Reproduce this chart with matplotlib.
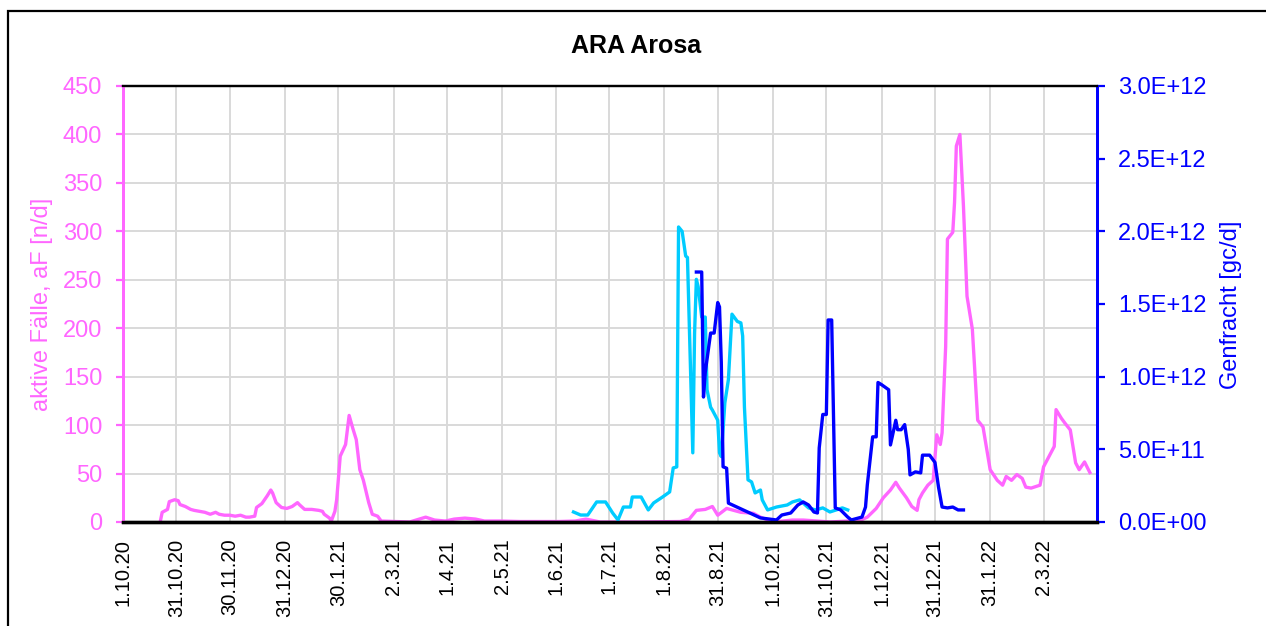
import numpy as np
import matplotlib
matplotlib.use("Agg")
import matplotlib.pyplot as plt
from matplotlib.patches import Rectangle

plt.rcParams['font.family'] = ['Liberation Sans', 'DejaVu Sans']

start = np.datetime64('2020-10-01')

# aktive Fälle (left axis), day offsets from 1.10.20
faelle_days = [21, 22, 25, 26, 29, 31, 32, 35, 38, 40, 43, 46, 49, 52, 54, 57, 60, 63, 66, 69,
               71, 74, 75, 78, 81, 83, 84, 86, 89, 92, 95, 98, 99, 102, 106, 110, 112, 113, 116, 117,
               119, 120, 122, 125, 127, 129, 131, 133, 135, 138, 140, 143, 145, 153, 161, 170, 175, 181, 186, 192,
               198, 203, 212, 223, 245, 254, 260, 268, 290, 313, 318, 322, 327, 331, 334, 339, 347, 354, 358, 365,
               376, 382, 390, 397, 407, 412, 418, 423, 427, 431, 434, 436, 440, 443, 446, 447, 449, 452, 455, 457,
               459, 460, 462, 463, 466, 467, 468, 470, 472, 474, 477, 480, 483, 487, 491, 494, 496, 499, 502, 505,
               507, 510, 515, 517, 521, 523, 524, 527, 529, 532, 535, 537, 540, 543]
faelle_vals = [1, 10, 13, 21, 23, 22, 18, 16, 13, 12, 11, 10, 8, 10, 8, 7, 7, 6, 7, 5,
               5, 6, 15, 19, 27, 33, 30, 20, 15, 14, 16, 20, 18, 13, 13, 12, 11, 8, 4, 1,
               11, 23, 68, 80, 110, 97, 85, 54, 43, 20, 8, 6, 1, 0.5, 0, 5, 2, 1, 3, 4,
               3, 1, 1, 0.5, 0.5, 1, 3, 0, 0, 0.5, 3, 12, 13, 16, 7, 14, 10, 9, 5, 0,
               2, 2, 1, 0, 1, 0, 5, 14, 25, 33, 41, 35, 25, 16, 12, 23, 30, 38, 43, 90,
               80, 92, 181, 292, 299, 330, 388, 400, 326, 233, 199, 105, 98, 54, 43, 38, 47, 43, 49, 45,
               36, 35, 38, 57, 71, 78, 116, 107, 102, 95, 61, 54, 62, 51]

# Genfracht series 1 (cyan, right axis), in 1E+12 gc/d
cyan_days = [253, 257, 261, 266, 271, 275, 278, 281, 285, 286, 291, 295, 298, 303, 307, 309, 311, 312, 314, 316,
             317, 320, 321, 322, 323, 325, 327, 328, 330, 331, 334, 335, 336, 338, 340, 342, 345, 347, 348, 349,
             351, 353, 355, 358, 359, 362, 367, 373, 376, 380, 385, 389, 393, 397, 404, 407]
cyan_vals = [0.069, 0.048, 0.048, 0.138, 0.138, 0.062, 0.014, 0.103, 0.103, 0.172, 0.172, 0.083, 0.131, 0.172, 0.207, 0.372, 0.379, 2.03, 2.0, 1.83,
             1.82, 0.476, 1.30, 1.67, 1.62, 1.41, 1.41, 0.91, 0.79, 0.77, 0.70, 0.476, 0.45, 0.82, 0.98, 1.43, 1.38, 1.37, 1.28, 0.79,
             0.29, 0.276, 0.20, 0.22, 0.152, 0.083, 0.103, 0.117, 0.138, 0.152, 0.097, 0.083, 0.097, 0.069, 0.097, 0.083]

# Genfracht series 2 (blue, right axis), in 1E+12 gc/d
blue_days = [322, 325, 326, 327, 330, 332, 334, 335, 336, 337, 339, 340, 358, 367, 370, 375, 379, 382, 385, 388,
             390, 391, 393, 395, 396, 398, 400, 403, 407, 409, 415, 417, 418, 421, 423, 424, 426, 430, 431, 434,
             435, 437, 439, 441, 442, 445, 448, 449, 453, 456, 458, 460, 463, 466, 469, 472]
blue_vals = [1.72, 1.72, 0.86, 1.03, 1.30, 1.30, 1.51, 1.48, 1.10, 0.38, 0.37, 0.13, 0.028, 0.014, 0.048, 0.062, 0.117, 0.138, 0.117, 0.069,
             0.062, 0.51, 0.74, 0.74, 1.39, 1.39, 0.097, 0.083, 0.034, 0.014, 0.034, 0.103, 0.255, 0.586, 0.586, 0.96, 0.945, 0.91, 0.53, 0.70,
             0.635, 0.635, 0.67, 0.50, 0.324, 0.345, 0.338, 0.46, 0.46, 0.41, 0.24, 0.103, 0.097, 0.103, 0.083, 0.083]

xtick_labels = ['1.10.20', '31.10.20', '30.11.20', '31.12.20', '30.1.21', '2.3.21', '1.4.21', '2.5.21',
                '1.6.21', '1.7.21', '1.8.21', '31.8.21', '1.10.21', '31.10.21', '1.12.21', '31.12.21',
                '31.1.22', '2.3.22']
left_ticks = [0, 50, 100, 150, 200, 250, 300, 350, 400, 450]
right_ticks = [0, 0.5e12, 1.0e12, 1.5e12, 2.0e12, 2.5e12, 3.0e12]
right_labels = ['0.0E+00', '5.0E+11', '1.0E+12', '1.5E+12', '2.0E+12', '2.5E+12', '3.0E+12']

PINK = '#FF66FF'
CYAN = '#00CCFF'
BLUE = '#0000FF'

def to_dates(days):
    return start + np.array(days, dtype='timedelta64[D]')

def parse(lbl):
    d, m, y = lbl.split('.')
    return np.datetime64('20%s-%02d-%02d' % (y, int(m), int(d)))

fig = plt.figure(figsize=(12.66, 6.26), dpi=100)
ax = fig.add_axes([123/1266, 1-522/626, (1097-123)/1266, (522-86)/626])
ax2 = ax.twinx()

ax.plot(to_dates(faelle_days), faelle_vals, color=PINK, lw=2.4, solid_joinstyle='round')
ax2.plot(to_dates(cyan_days), np.array(cyan_vals) * 1e12, color=CYAN, lw=2.4)
ax2.plot(to_dates(blue_days), np.array(blue_vals) * 1e12, color=BLUE, lw=2.4)

xt = [parse(l) for l in xtick_labels]
ax.set_xlim(start, np.datetime64('2022-04-01'))
ax.set_xticks(xt)
ax.set_xticklabels(xtick_labels, rotation=90, fontsize=14.5)
ax.set_ylim(0, 450)
ax.set_yticks(left_ticks)
ax.set_yticklabels([str(t) for t in left_ticks], fontsize=17, color=PINK)
ax2.set_ylim(0, 3e12)
ax2.set_yticks(right_ticks)
ax2.set_yticklabels(right_labels, fontsize=17, color=BLUE)

ax.grid(True, color='#D9D9D9', lw=1.4)
ax.set_axisbelow(True)

for a in (ax, ax2):
    a.spines['top'].set_color('black')
    a.spines['top'].set_linewidth(1.6)
    a.spines['bottom'].set_color('black')
    a.spines['bottom'].set_linewidth(2.4)
    a.spines['left'].set_color(PINK)
    a.spines['left'].set_linewidth(2.0)
    a.spines['right'].set_color(BLUE)
    a.spines['right'].set_linewidth(2.0)

ax.tick_params(axis='y', colors=PINK, length=5, width=1.6, pad=10)
ax.tick_params(axis='x', length=0, pad=12, colors='black')
ax2.tick_params(axis='y', colors=BLUE, length=6, width=1.6, pad=9)

ax.set_ylabel('aktive Fälle, aF [n/d]', fontsize=17, color=PINK)
ax.yaxis.set_label_coords(-0.0719, 0.5)
ax2.set_ylabel('Genfracht [gc/d]', fontsize=17, color=BLUE, rotation=90)
ax2.yaxis.set_label_coords(1.1263, 0.497)

fig.text(636/1266, 1-46/626, 'ARA Arosa', fontsize=18, fontweight='bold',
         ha='center', va='center')

fig.patches.append(Rectangle((8/1266, -0.1), 1.2, 1.1 - 11/626, transform=fig.transFigure,
                             fill=False, edgecolor='black', lw=1.6))

fig.savefig('out.png', dpi=100)
